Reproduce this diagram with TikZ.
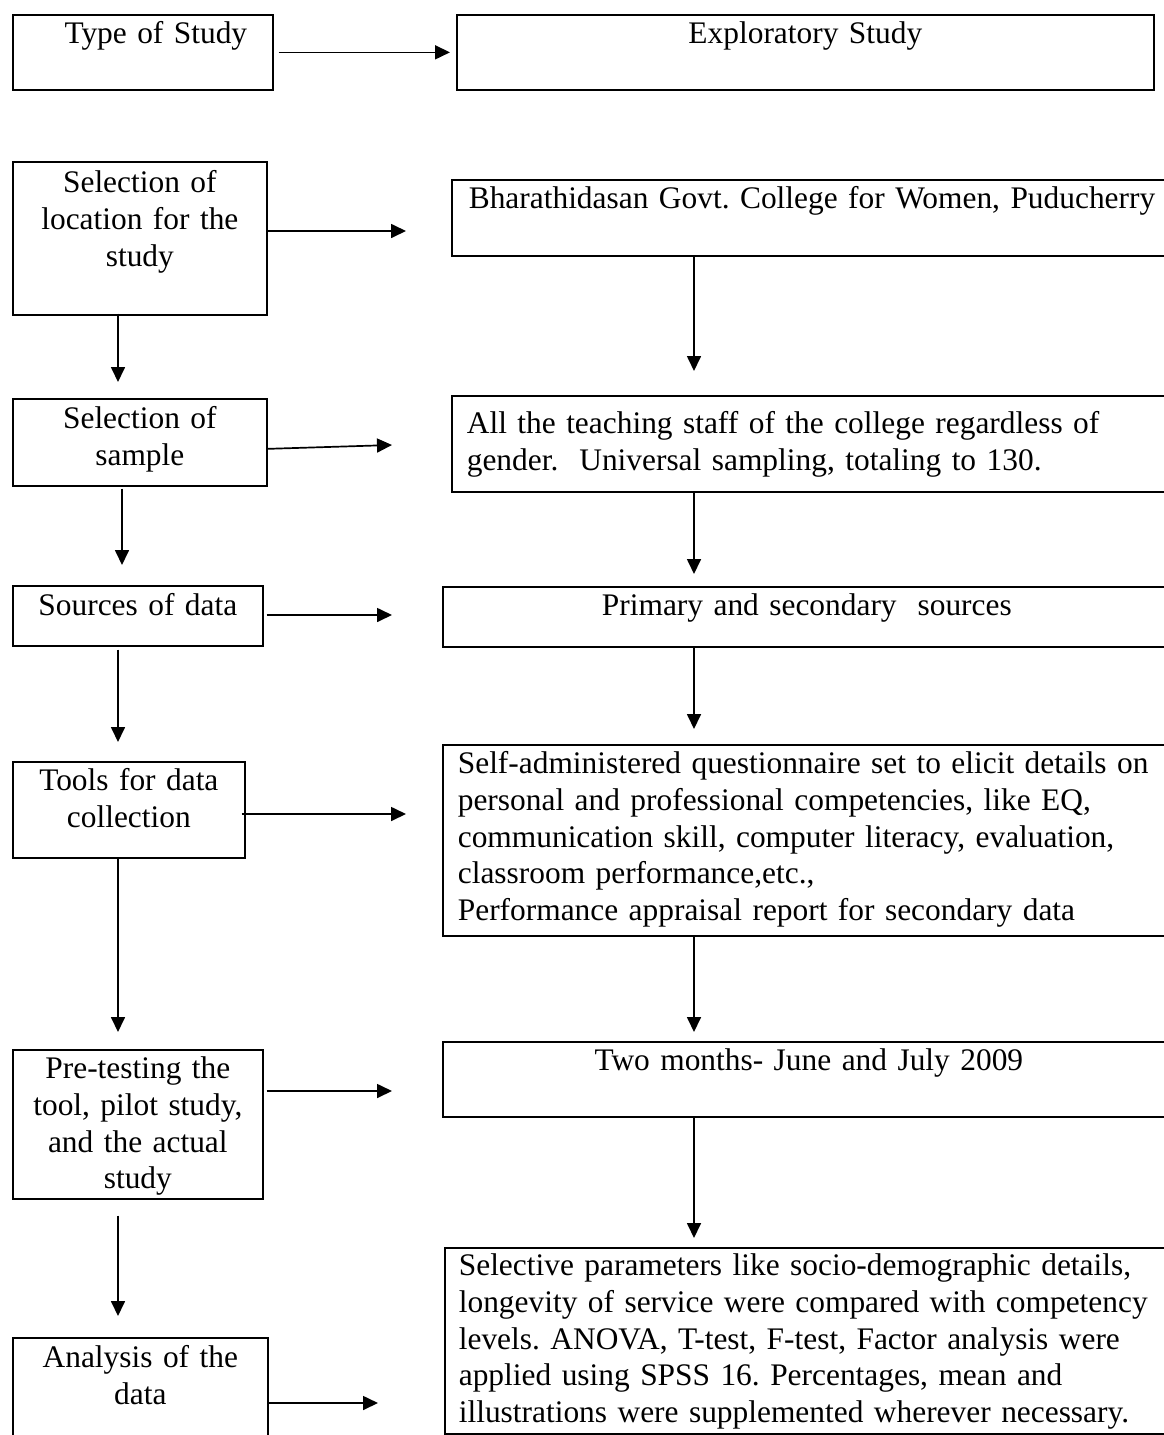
\documentclass[tikz,border=0pt]{standalone}
\usepackage{fontspec}
\setmainfont{Liberation Serif}
\usetikzlibrary{arrows.meta}
\frenchspacing
\tikzstyle{box}=[draw,line width=1.7pt,anchor=north west,align=center,
  inner xsep=6pt,inner ysep=0pt,text height=29pt,
  font={\fontsize{31.4}{36.7}\selectfont}]
\tikzstyle{rbox}=[box,align=left,inner xsep=15pt]
\tikzstyle{conn}=[->,line width=1.7pt]

\begin{document}
\begin{tikzpicture}[x=1pt,y=-1pt,>={Triangle[length=15pt,width=14pt]}]
  \useasboundingbox (0,0) rectangle (1164,1435);

  % left column
  \node[box,text width=248pt,text depth=46pt] (typ) at (12,14)
  {\hspace*{26pt}Type of Study};
  \node[box,text width=242pt,text height=31pt,text depth=122pt] (loc) at (12,161)
  {Selection of\\ location for the\\ study};
  \node[box,text width=242pt,text height=30pt,text depth=57pt] (smp) at (12,398)
  {Selection of\\ sample};
  \node[box,text width=238pt,text height=30pt,text depth=30pt] (src) at (12,585)
  {Sources of data};
  \node[box,text width=220pt,text depth=67pt] (tool) at (12,761)
  {Tools for data\\ collection};
  \node[box,text width=238pt,text depth=120pt] (pre) at (12,1049)
  {Pre-testing the\\ tool, pilot study,\\ and the actual\\ study};
  \node[box,text width=243pt,text height=30pt,text depth=80pt] (ana) at (12,1337)
  {Analysis of the\\ data};

  % right column
  \node[box,text width=685pt,text depth=46pt] (expl) at (456,14)
  {Exploratory Study};
  \node[rbox,inner xsep=17pt,text width=726pt,text depth=47pt] (bha) at (451,179)
  {Bharathidasan Govt. College for Women, Puducherry};
  \node[rbox,text width=730pt,text height=38pt,text depth=58pt] (all) at (451,395)
  {All the teaching staff of the college regardless of\\
   gender.~ Universal sampling, totaling to 130.};
  \node[box,text width=716pt,text depth=31pt] (pri) at (442,586)
  {Primary and secondary~ sources};
  \node[rbox,text width=730pt,text depth=162pt] (self) at (442,744)
  {Self-administered questionnaire set to elicit details on\\
   personal and professional competencies, like EQ,\\
   communication skill, computer literacy, evaluation,\\
   classroom performance,etc.,\\
   Performance appraisal report for secondary data};
  \node[box,text width=720pt,text depth=46pt] (two) at (442,1041)
  {Two months- June and July 2009};
  \node[rbox,inner xsep=14pt,text width=732pt,text height=28pt,text depth=158pt] (last) at (444,1247)
  {Selective parameters like socio-demographic details,\\
   longevity of service were compared with competency\\
   levels. ANOVA, T-test, F-test, Factor analysis were\\
   applied using SPSS 16. Percentages, mean and\\
   illustrations were supplemented wherever necessary.};

  \coordinate (lc) at (118,0);
  \coordinate (lc2) at (122,0);
  \coordinate (rc) at (694,0);
  \coordinate (a2) at (406,231);
  \coordinate (a3) at (392,445);
  \coordinate (a4) at (392,615);
  \coordinate (a5) at (406,814);
  \coordinate (a6) at (392,1091);
  \coordinate (a7) at (378,1403);

  % across
  \draw[conn,shorten <=5pt,shorten >=6pt] (typ.east) -- (expl.west);
  \draw[conn] (loc.east |- a2) -- (a2);
  \draw[conn] ([yshift=-6.5pt]smp.east) -- (a3);
  \draw[conn,shorten <=3pt] (src.east |- a4) -- (a4);
  \draw[conn,shorten <=-4pt] (tool.east |- a5) -- (a5);
  \draw[conn,shorten <=3pt] (pre.east |- a6) -- (a6);
  \draw[conn] (ana.east |- a7) -- (a7);

  % down the left
  \draw[conn,shorten <=-2pt,shorten >=16pt] (loc.south -| lc) -- (smp.north -| lc);
  \draw[conn,shorten <=2pt,shorten >=20pt] (smp.south -| lc2) -- (src.north -| lc2);
  \draw[conn,shorten <=3pt,shorten >=19pt] (src.south -| lc) -- (tool.north -| lc);
  \draw[conn,shorten >=17pt] (tool.south -| lc) -- (pre.north -| lc);
  \draw[conn,shorten <=16pt,shorten >=21pt] (pre.south -| lc) -- (ana.north -| lc);

  % down the right
  \draw[conn,shorten >=24pt] (bha.south -| rc) -- (all.north -| rc);
  \draw[conn,shorten >=12pt] (all.south -| rc) -- (pri.north -| rc);
  \draw[conn,shorten >=15pt] (pri.south -| rc) -- (self.north -| rc);
  \draw[conn,shorten >=9pt] (self.south -| rc) -- (two.north -| rc);
  \draw[conn,shorten >=9pt] (two.south -| rc) -- (last.north -| rc);
\end{tikzpicture}
\end{document}
